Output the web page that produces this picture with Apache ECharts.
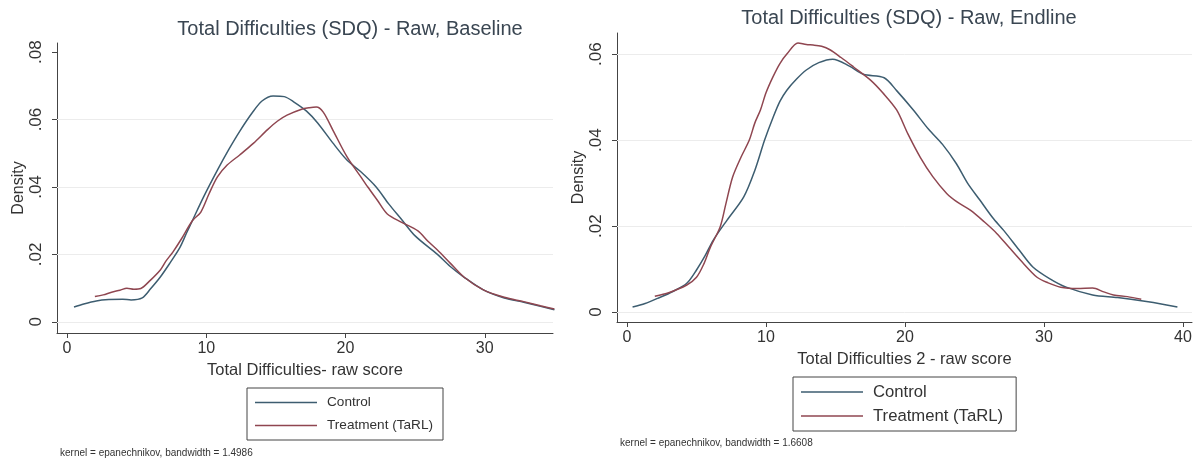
<!DOCTYPE html>
<html><head><meta charset="utf-8">
<script src="https://cdn.jsdelivr.net/npm/echarts@6/dist/echarts.min.js"></script>
<style>html,body{margin:0;padding:0;background:#fff}#c{width:1195px;height:462px}</style>
</head><body><div id="c"></div>
<script>
// ---- data ----
const titles = ['Total Difficulties (SDQ) - Raw, Baseline', 'Total Difficulties (SDQ) - Raw, Endline'];
const xNames = ['Total Difficulties- raw score', 'Total Difficulties 2 - raw score'];
const notes = ['kernel = epanechnikov, bandwidth = 1.4986', 'kernel = epanechnikov, bandwidth = 1.6608'];
const seriesNames = ['Control', 'Treatment (TaRL)'];
const xTicksBase = [0, 10, 20, 30];
const yTicksBase = [0, 0.02, 0.04, 0.06, 0.08];
const xTicksEnd = [0, 10, 20, 30, 40];
const yTicksEnd = [0, 0.02, 0.04, 0.06];
const yLabelsBase = ['0', '.02', '.04', '.06', '.08'];
const yLabelsEnd = ['0', '.02', '.04', '.06'];
const gridBase = [0, 0.02, 0.04, 0.06];
const gridEnd = [0, 0.02, 0.04, 0.06];

const baseControl = [
  [0.5,0.0044],[1.2,0.0053],[2.1,0.0062],[3.0,0.0066],[4.0,0.0067],[4.6,0.0065],[5.4,0.0071],
  [6.0,0.0098],[6.7,0.0133],[7.4,0.0175],[8.1,0.0220],[8.6,0.0265],[9.0,0.0300],[9.8,0.0370],
  [10.8,0.0450],[11.6,0.0510],[12.4,0.0565],[13.3,0.0620],[14.0,0.0655],[14.8,0.0670],
  [15.6,0.0668],[16.3,0.0652],[17.2,0.0625],[18.0,0.0590],[19.1,0.0530],[20.1,0.0480],
  [21.1,0.0445],[22.2,0.0400],[23.1,0.0350],[24.0,0.0305],[25.0,0.0255],[26.6,0.0200],
  [27.5,0.0165],[28.5,0.0133],[29.9,0.0095],[31.4,0.0071],[32.8,0.0058],[34.0,0.0046],[35.0,0.0036]
];
const baseTreat = [
  [2.0,0.0075],[2.6,0.0080],[3.2,0.0088],[3.8,0.0094],[4.3,0.0100],[4.8,0.0097],[5.3,0.0099],
  [5.9,0.0120],[6.7,0.0154],[7.1,0.0180],[7.6,0.0207],[8.2,0.0245],[9.0,0.0300],[9.6,0.0325],
  [10.2,0.0380],[10.8,0.0430],[11.5,0.0465],[12.4,0.0495],[13.4,0.0530],[14.4,0.0570],
  [15.1,0.0595],[15.8,0.0613],[16.8,0.0630],[17.4,0.0635],[17.9,0.0637],[18.4,0.0622],
  [19.1,0.0568],[20.1,0.0490],[21.1,0.0430],[21.6,0.0400],[22.3,0.0360],[23.0,0.0320],
  [24.0,0.0296],[25.2,0.0270],[25.9,0.0240],[26.6,0.0213],[27.5,0.0175],[28.5,0.0133],
  [29.9,0.0095],[31.4,0.0073],[32.8,0.0060],[34.0,0.0048],[35.0,0.0038]
];
const endControl = [
  [0.4,0.0012],[1.3,0.0020],[2.2,0.0032],[3.3,0.0048],[4.3,0.0067],[5.0,0.0098],[5.6,0.0130],
  [6.2,0.0167],[7.2,0.0214],[8.4,0.0268],[9.2,0.0330],[9.9,0.0400],[10.5,0.0452],[11.0,0.0490],
  [11.5,0.0516],[12.2,0.0542],[12.9,0.0563],[13.8,0.0580],[14.8,0.0588],[16.0,0.0572],[17.0,0.0553],
  [18.5,0.0545],[19.4,0.0515],[20.6,0.0470],[21.7,0.0425],[22.7,0.0390],[23.7,0.0345],
  [24.5,0.0300],[25.4,0.0260],[26.3,0.0220],[27.1,0.0190],[28.2,0.0145],[29.2,0.0105],
  [30.4,0.0078],[31.6,0.0058],[33.5,0.0040],[35.3,0.0034],[37.5,0.0024],[39.6,0.0012]
];
const endTreat = [
  [2.0,0.0037],[3.0,0.0045],[4.3,0.0063],[5.0,0.0081],[5.5,0.0110],[6.0,0.0151],[6.7,0.0198],
  [7.1,0.0250],[7.6,0.0314],[8.2,0.0360],[8.8,0.0400],[9.2,0.0440],[9.6,0.0470],[10.0,0.0510],
  [10.5,0.0547],[11.0,0.0578],[11.5,0.0600],[12.3,0.0626],[12.9,0.0622],[13.4,0.0621],
  [14.0,0.0618],[14.6,0.0610],[15.4,0.0592],[16.3,0.0570],[17.5,0.0540],[18.4,0.0510],
  [19.4,0.0470],[20.2,0.0415],[21.1,0.0360],[22.0,0.0315],[23.0,0.0276],[23.8,0.0255],
  [24.7,0.0237],[25.7,0.0210],[26.6,0.0183],[27.5,0.0150],[28.3,0.0121],[29.5,0.0081],
  [30.3,0.0068],[31.2,0.0058],[32.4,0.0055],[33.5,0.0056],[34.3,0.0047],[35.0,0.0040],
  [36.0,0.0036],[37.0,0.0030]
];

// ---- chart ----
const FONT = 'Liberation Sans, Arial, sans-serif';
const cCol = '#3d5d70', tCol = '#8f4650', axisCol = '#444', gridCol = '#ececec', txtCol = '#333';

function xAxisCfg(idx, min, max, ticks, name) {
  return {
    type: 'value', gridIndex: idx, min: min, max: max, name: name,
    nameLocation: 'middle', nameGap: 26,
    nameTextStyle: { fontFamily: FONT, fontSize: 16.5, color: txtCol },
    axisLine: { show: true, onZero: false, lineStyle: { color: axisCol, width: 1 } },
    axisTick: { show: true, length: 5, customValues: ticks, lineStyle: { color: axisCol } },
    axisLabel: { customValues: ticks, fontFamily: FONT, fontSize: 16, color: txtCol, margin: 8 },
    splitLine: { show: false }
  };
}
function yAxisCfg(idx, min, max, ticks, labels) {
  return {
    type: 'value', gridIndex: idx, min: min, max: max, name: 'Density',
    nameLocation: 'middle', nameGap: 30, nameRotate: 90,
    nameTextStyle: { fontFamily: FONT, fontSize: 16, color: txtCol },
    axisLine: { show: true, onZero: false, lineStyle: { color: axisCol, width: 1 } },
    axisTick: { show: true, length: 5, customValues: ticks, lineStyle: { color: axisCol } },
    axisLabel: { customValues: ticks, rotate: 90, fontFamily: FONT, fontSize: 17, color: txtCol, margin: 12,
      formatter: v => { const i = ticks.findIndex(t => Math.abs(t - v) < 1e-9); return i >= 0 ? labels[i] : ''; } },
    splitLine: { show: false }
  };
}
function lineSeries(name, data, color, idx, grid) {
  const s = {
    type: 'line', name: name, data: data, xAxisIndex: idx, yAxisIndex: idx,
    showSymbol: false, symbol: 'none', smooth: 0.3, silent: true,
    lineStyle: { color: color, width: 1.5 }, itemStyle: { color: color }, z: 3
  };
  if (grid) {
    s.markLine = { silent: true, symbol: 'none', label: { show: false }, z: 1,
      lineStyle: { color: gridCol, width: 1, type: 'solid' },
      data: grid.map(t => ({ yAxis: t })) };
  }
  return s;
}
function legendCfg(left, top, fontSize, padRight) {
  return {
    left: left, top: top, orient: 'vertical', icon: 'rect', itemWidth: 62, itemHeight: 1.5, itemGap: 7,
    padding: [6.5, padRight, 6.5, 8], borderColor: '#444', borderWidth: 1, borderRadius: 0, selectedMode: false,
    textStyle: { fontFamily: FONT, fontSize: fontSize, lineHeight: 16, color: txtCol, padding: [0, 0, 0, 5] },
    data: seriesNames
  };
}

const chart = echarts.init(document.getElementById('c'), null, { renderer: 'canvas' });
chart.setOption({
  animation: false,
  backgroundColor: '#fff',
  title: [
    { text: titles[0], left: 345, top: 14, textAlign: 'center',
      textStyle: { fontFamily: FONT, fontSize: 20, fontWeight: 'normal', color: '#3a4652' } },
    { text: titles[1], left: 904, top: 3, textAlign: 'center',
      textStyle: { fontFamily: FONT, fontSize: 20, fontWeight: 'normal', color: '#3a4652' } }
  ],
  grid: [
    { left: 57, top: 43, width: 496, height: 290, containLabel: false },
    { left: 617, top: 33, width: 575, height: 289, containLabel: false }
  ],
  xAxis: [
    xAxisCfg(0, -0.72, 34.9, xTicksBase, xNames[0]),
    xAxisCfg(1, -0.72, 40.65, xTicksEnd, xNames[1])
  ],
  yAxis: [
    yAxisCfg(0, -0.0033, 0.0827, yTicksBase, yLabelsBase),
    yAxisCfg(1, -0.0023, 0.0649, yTicksEnd, yLabelsEnd)
  ],
  legend: [
    legendCfg(247, 388, 13.6, 10),
    legendCfg(793, 377, 16.7, 13)
  ],
  graphic: [
    { type: 'text', left: 60, top: 448, style: { text: notes[0], font: '10px ' + FONT, fill: '#333' } },
    { type: 'text', left: 620, top: 438, style: { text: notes[1], font: '10px ' + FONT, fill: '#333' } }
  ],
  series: [
    lineSeries(seriesNames[0], baseControl, cCol, 0, gridBase),
    lineSeries(seriesNames[1], baseTreat, tCol, 0),
    lineSeries(seriesNames[0], endControl, cCol, 1, gridEnd),
    lineSeries(seriesNames[1], endTreat, tCol, 1)
  ]
});
</script></body></html>
